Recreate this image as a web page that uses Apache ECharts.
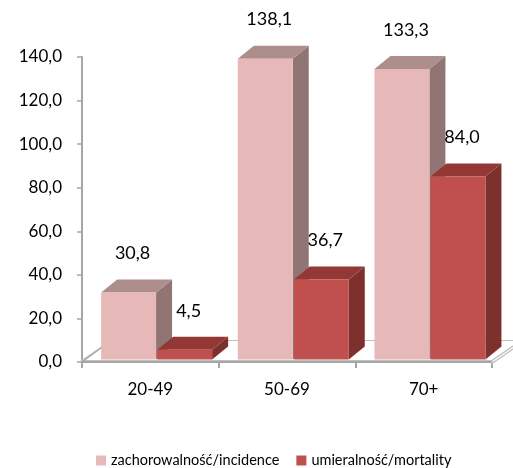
<!DOCTYPE html>
<html>
<head>
<meta charset="utf-8">
<script src="https://cdn.jsdelivr.net/npm/echarts@6/dist/echarts.min.js"></script>
<style>
html,body{margin:0;padding:0;background:#fff;}
#chart{width:513px;height:468px;}
</style>
</head>
<body>
<div id="chart"></div>
<script>
const categories = ['20-49', '50-69', '70+'];
const incidence = [30.8, 138.1, 133.3];
const mortality = [4.5, 36.7, 84.0];
const seriesNames = ['zachorowalność/incidence', 'umieralność/mortality'];
const yMin = 0, yMax = 140, yInterval = 20;

const FONT = 'Lato, "Open Sans", sans-serif';
const fmt = v => v.toFixed(1).replace('.', ',');

const DX = 16, DY = -13, LIFT = 2.5;

function barRenderer(offsetFrac, front, side, topc) {
  return function (params, api) {
    const ci = api.value(0), v = api.value(1);
    const pTop = api.coord([ci, v]);
    const pBase = api.coord([ci, 0]);
    const bw = api.size([1, 0])[0];
    const x0 = pTop[0] + offsetFrac * bw;
    const x1 = x0 + 0.402 * bw;
    const yT = pTop[1] - LIFT, yB = pBase[1] - LIFT;
    return {
      type: 'group',
      children: [
        { type: 'polygon', shape: { points: [[x1, yB], [x1, yT], [x1 + DX, yT + DY], [x1 + DX, yB + DY]] }, style: { fill: side } },
        { type: 'polygon', shape: { points: [[x0, yT], [x1, yT], [x1 + DX, yT + DY], [x0 + DX, yT + DY]] }, style: { fill: topc } },
        { type: 'rect', shape: { x: x0, y: yT, width: x1 - x0, height: yB - yT }, style: { fill: front } },
        { type: 'text', style: { text: fmt(v), x: (x0 + x1) / 2 + 4, y: yT + DY - 26, textAlign: 'center', textVerticalAlign: 'middle', font: '18px ' + FONT, fill: '#000' } }
      ]
    };
  };
}

function floorRenderer(params, api) {
  const p = api.coord([0, 0]);
  const bw = api.size([1, 0])[0];
  const xL = p[0] - bw / 2;
  const xR = xL + bw * categories.length;
  const y0 = p[1];
  const fx = 29, fy = -20, t = 1.5, th = 3;
  return {
    type: 'group',
    children: [
      { type: 'polygon', shape: { points: [[xR, y0 - t], [xR + fx, y0 - t + fy], [xR + fx, y0 - t + fy + th], [xR, y0 - t + th]] }, style: { fill: '#ffffff', stroke: '#c0c0c0', lineWidth: 1.2 } },
      { type: 'polygon', shape: { points: [[xL, y0 - t], [xR, y0 - t], [xR + fx, y0 - t + fy], [xL + fx, y0 - t + fy]] }, style: { fill: '#ffffff', stroke: '#c0c0c0', lineWidth: 1.2 } },
      { type: 'line', shape: { x1: xL, y1: y0, x2: xL + fx, y2: y0 - t + fy }, style: { stroke: '#a6a6a6', lineWidth: 1.5 } }
    ]
  };
}

const chart = echarts.init(document.getElementById('chart'), null, { renderer: 'canvas' });
chart.setOption({
  animation: false,
  backgroundColor: '#ffffff',
  grid: { left: 82, right: 21, top: 57, bottom: 106, containLabel: false },
  legend: {
    data: seriesNames,
    top: 448,
    left: 91,
    icon: 'rect',
    itemWidth: 10,
    itemHeight: 10,
    itemGap: 17,
    textStyle: { fontFamily: FONT, fontSize: 14.5, color: '#000' }
  },
  xAxis: {
    type: 'category',
    data: categories,
    axisLine: { show: true, lineStyle: { color: '#a6a6a6', width: 2 } },
    axisTick: { show: true, length: 6, lineStyle: { color: '#a6a6a6', width: 2 } },
    axisLabel: { fontFamily: FONT, fontSize: 17, color: '#000', margin: 19 },
    splitLine: { show: false }
  },
  yAxis: {
    type: 'value',
    min: yMin, max: yMax, interval: yInterval,
    axisLine: { show: true, lineStyle: { color: '#a6a6a6', width: 2 } },
    axisTick: { show: true, length: 5, lineStyle: { color: '#a6a6a6', width: 1.5 } },
    axisLabel: { fontFamily: FONT, fontSize: 17, color: '#000', margin: 20, formatter: v => fmt(v) },
    splitLine: { show: false }
  },
  series: [
    {
      type: 'custom', name: 'floor', z: 1, clip: false, silent: true,
      renderItem: floorRenderer,
      data: [[0, 0]],
      encode: { x: 0, y: 1 }
    },
    {
      type: 'custom', name: seriesNames[0], z: 2, clip: false,
      itemStyle: { color: '#e6b9b8' },
      renderItem: barRenderer(-0.36, '#e6b9b8', '#917575', '#ae8e8d'),
      data: incidence.map((v, i) => [i, v]),
      encode: { x: 0, y: 1 }
    },
    {
      type: 'custom', name: seriesNames[1], z: 3, clip: false,
      itemStyle: { color: '#c0504d' },
      renderItem: barRenderer(0.05, '#c0504d', '#7e302e', '#943835'),
      data: mortality.map((v, i) => [i, v]),
      encode: { x: 0, y: 1 }
    }
  ]
});
</script>
</body>
</html>
